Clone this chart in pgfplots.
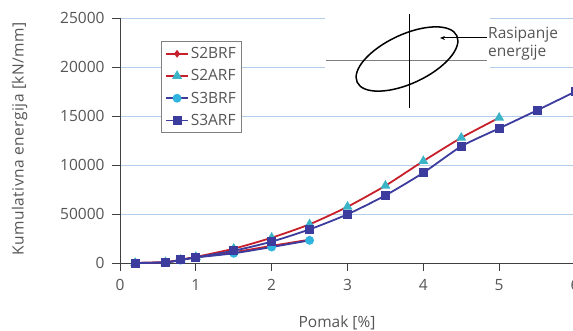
\documentclass[border=0pt]{standalone}
\usepackage{fontspec}
\setmainfont{Open Sans}
\usepackage{pgfplots}
\pgfplotsset{compat=1.18}
\usetikzlibrary{arrows.meta}
\definecolor{txt}{HTML}{555555}
\definecolor{grd}{HTML}{B4CDEA}
\definecolor{axl}{HTML}{404040}
\definecolor{cred}{HTML}{C8202A}
\definecolor{ccyan}{HTML}{2FB4E0}
\definecolor{ctri}{HTML}{3CB4C8}
\definecolor{cblue}{HTML}{3C3C9E}
\newcommand\f{\fontsize{15.5}{18}\selectfont}
\begin{document}
\begin{tikzpicture}[x=1pt,y=1pt]
\begin{axis}[
  at={(120pt,67pt)}, anchor=south west,
  scale only axis, width=455pt, height=245pt,
  xmin=0, xmax=6, ymin=0, ymax=25000,
  axis lines*=left,
  axis line style={axl, line width=1pt},
  xtick={0,1,2,3,4,5,6},
  ytick={0,5000,10000,15000,20000,25000},
  yticklabels={0,50000,10000,15000,20000,25000},
  scaled y ticks=false,
  tick align=outside, major tick length=8pt,
  tick style={axl, line width=0.8pt},
  ymajorgrids, grid style={grd, line width=0.8pt},
  tick label style={font=\f, text=txt},
  /pgf/number format/assume math mode=true,
  xticklabel style={yshift=-5pt},
  yticklabel style={xshift=-4pt},
  legend cell align=left,
  legend style={at={(axis description cs:0.09,0.906)}, anchor=north west,
    draw=gray, line width=0.8pt, fill=white, font=\f, text=txt,
    row sep=5.5pt, inner sep=4pt},
  legend image code/.code={\draw[mark repeat=2,mark phase=2] plot coordinates {(0cm,0cm) (0.38cm,0cm) (0.76cm,0cm)};},
  clip=false,
]
\addplot[cred, line width=1.8pt, smooth, tension=0.4, mark=diamond*, mark size=2.5pt, mark options={fill=cred, draw=cred}]
  coordinates {(0.2,0) (0.6,80) (0.8,320) (1.0,600) (1.5,1100) (2,1750) (2.5,2380)};
\addlegendentry{S2BRF}
\addplot[cred, line width=1.8pt, smooth, tension=0.4, mark=triangle*, mark size=4pt, mark options={fill=ctri, draw=ctri}]
  coordinates {(0.2,0) (0.6,80) (0.8,330) (1.0,620) (1.5,1460) (2,2580) (2.5,3950) (3,5740) (3.5,7890) (4,10400) (4.5,12780) (5,14820)};
\addlegendentry{S2ARF}
\addplot[cblue, line width=1.8pt, smooth, tension=0.4, mark=*, mark size=3.5pt, mark options={fill=ccyan, draw=ccyan}]
  coordinates {(0.2,0) (0.6,60) (0.8,300) (1.0,560) (1.5,990) (2,1630) (2.5,2310)};
\addlegendentry{S3BRF}
\addplot[cblue, line width=1.8pt, smooth, tension=0.4, mark=square*, mark size=3.6pt, mark options={fill=cblue, draw=cblue}]
  coordinates {(0.2,0) (0.6,70) (0.8,310) (1.0,580) (1.5,1250) (2,2180) (2.5,3430) (3,4970) (3.5,6900) (4,9210) (4.5,11900) (5,13740) (5.5,15580) (6,17470)};
\addlegendentry{S3ARF}
\end{axis}
% axis titles
\node[anchor=base, font=\f, text=txt] at (337,3) {Pomak [\%]};
\node[anchor=center, rotate=90, font=\f\addfontfeatures{LetterSpace=3}, text=txt] at (19.5,191) {Kumulativna energija [kN/mm]};
% inset sketch
\fill[white] (325,220) rectangle (490,325);
\draw[gray, line width=1pt] (326,269.3) -- (487,269.3);
\draw[black, line width=1pt] (409,316) -- (409,222);
\draw[black, line width=1.5pt, rotate around={25:(407,271)}] (407,271) ellipse [x radius=55, y radius=24.5];
\draw[black, line width=1pt, -{Stealth[length=5pt,width=4pt]}] (487,292) -- (440,292);
\node[anchor=north west, align=left, font=\f, text=txt, inner sep=0pt] at (488,303) {Rasipanje\\energije};
\pgfresetboundingbox
\useasboundingbox (0,0) rectangle (573,330);
\end{tikzpicture}
\end{document}
